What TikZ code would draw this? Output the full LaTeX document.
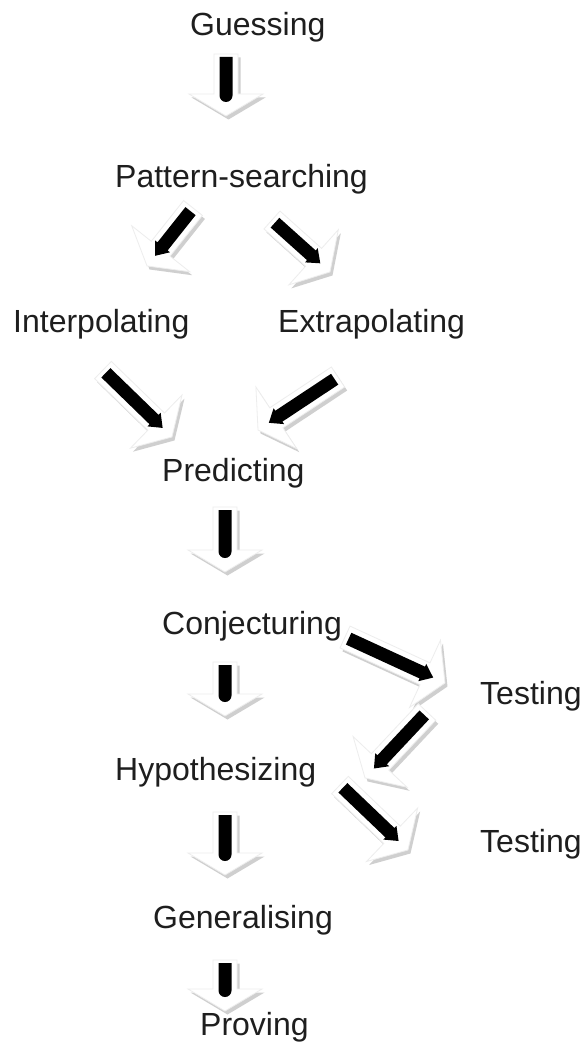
\documentclass[tikz,border=0pt]{standalone}
\usepackage{fontspec}
\setmainfont{Liberation Sans}
\usetikzlibrary{calc}
\definecolor{txt}{HTML}{1E1E1E}
\tikzset{
  lbl/.style={anchor=base west, inner sep=0pt, text=txt, font=\fontsize{32}{38}\selectfont},
  arrshadow/.style={fill=gray!38, draw=none},
  arrbody/.style={fill=white, draw=gray!14, line width=0.8pt},
  arrbar/.style={fill=black, draw=none}
}
% block arrow from tail coordinate #1 to tip coordinate #2; #3: 0 = round bar end, 1 = pointed bar end
\newcommand\barrow[3]{%
  \path let \p1=(#1), \p2=(#2) in \pgfextra{%
    \pgfmathsetmacro\bang{atan2(\y2-\y1,\x2-\x1)}%
    \pgfmathsetmacro\blen{veclen(\x2-\x1,\y2-\y1)}%
    \xdef\Bang{\bang}\xdef\Blen{\blen}\xdef\Bx{\x1}\xdef\By{\y1}};
  \begin{scope}[shift={({\Bx+2.5pt},{\By-3.5pt})}, rotate=\Bang, x=1pt, y=1pt]
    \path[arrshadow] (0,-12) -- ({\Blen-22},-12) -- ({\Blen-22},-37) -- (\Blen,0)
      -- ({\Blen-22},37) -- ({\Blen-22},12) -- (0,12) -- cycle;
  \end{scope}
  \begin{scope}[shift={(\Bx,\By)}, rotate=\Bang, x=1pt, y=1pt]
    \path[arrbody] (0,-12) -- ({\Blen-22},-12) -- ({\Blen-22},-37) -- (\Blen,0)
      -- ({\Blen-22},37) -- ({\Blen-22},12) -- (0,12) -- cycle;
    \ifnum#3=0
      \path[arrbar] (3,-6.5) -- ({\Blen-20.5},-6.5) arc[start angle=-90,end angle=90,radius=6.5]
        -- (3,6.5) -- cycle;
    \else
      \path[arrbar] (4,-6.5) -- ({\Blen-25},-6.5) -- ({\Blen-25},-9.5) -- ({\Blen-13},0)
        -- ({\Blen-25},9.5) -- ({\Blen-25},6.5) -- (4,6.5) -- cycle;
    \fi
  \end{scope}
}
\begin{document}
\begin{tikzpicture}[x=1pt, y=-1pt]
\fill[white] (0,0) rectangle (587,1043);
\useasboundingbox (0,0) rectangle (587,1043);

% labels
\node[lbl] (guess) at (190,36) {Guessing};
\node[lbl] (patt)  at (115,187) {Pattern-searching};
\node[lbl] (inter) at (13,332) {Interpolating};
\node[lbl] (extra) at (278,332) {Extrapolating};
\node[lbl] (pred)  at (162,481) {Predicting};
\node[lbl] (conj)  at (162,634) {Conjecturing};
\node[lbl] (test1) at (480,704) {Testing};
\node[lbl] (hypo)  at (115,780) {Hypothesizing};
\node[lbl] (test2) at (480,852) {Testing};
\node[lbl] (gen)   at (153,928) {Generalising};
\node[lbl] (prov)  at (200,1035) {Proving};

% arrow end points
\coordinate (v1a) at (226,54);  \coordinate (v1b) at (226,116);
\coordinate (d1a) at (193,208); \coordinate (d1b) at (147,266);
\coordinate (d2a) at (272,220); \coordinate (d2b) at (330,272);
\coordinate (d3a) at (103,370); \coordinate (d3b) at (172,437);
\coordinate (d4a) at (338,377); \coordinate (d4b) at (258,430);
\coordinate (v2a) at (225,507); \coordinate (v2b) at (225,572);
\coordinate (d5a) at (345,637); \coordinate (d5b) at (445,683);
\coordinate (v3a) at (225,662); \coordinate (v3b) at (225,716);
\coordinate (d6a) at (427,712); \coordinate (d6b) at (365,778);
\coordinate (d7a) at (340,785); \coordinate (d7b) at (408,850);
\coordinate (v4a) at (225,812); \coordinate (v4b) at (225,875);
\coordinate (v5a) at (225,960); \coordinate (v5b) at (225,1011);

\barrow{v1a}{v1b}{0}
\barrow{d1a}{d1b}{1}
\barrow{d2a}{d2b}{1}
\barrow{d3a}{d3b}{1}
\barrow{d4a}{d4b}{1}
\barrow{v2a}{v2b}{0}
\barrow{d5a}{d5b}{1}
\barrow{v3a}{v3b}{0}
\barrow{d6a}{d6b}{1}
\barrow{d7a}{d7b}{1}
\barrow{v4a}{v4b}{0}
\barrow{v5a}{v5b}{0}
\end{tikzpicture}
\end{document}
